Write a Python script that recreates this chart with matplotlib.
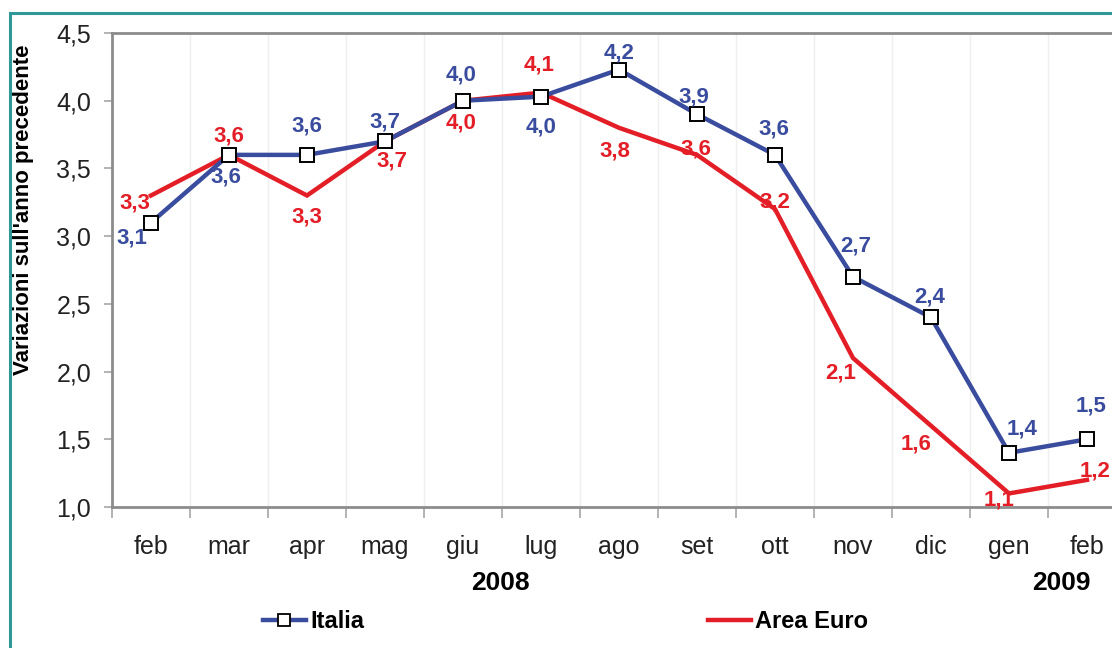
import matplotlib
matplotlib.use("Agg")
import matplotlib.pyplot as plt
from matplotlib.patches import Rectangle
from matplotlib.lines import Line2D
from matplotlib.ticker import FixedLocator, FuncFormatter

plt.rcParams['font.family'] = ['Liberation Sans', 'DejaVu Sans']

months = ["feb", "mar", "apr", "mag", "giu", "lug", "ago", "set", "ott", "nov", "dic", "gen", "feb"]
italia = [3.1, 3.6, 3.6, 3.7, 4.0, 4.03, 4.23, 3.9, 3.6, 2.7, 2.4, 1.4, 1.5]
euro = [3.3, 3.6, 3.3, 3.7, 4.0, 4.06, 3.8, 3.6, 3.2, 2.1, 1.6, 1.1, 1.2]
years = ["2008", "2009"]
series_names = ["Italia", "Area Euro"]
ylabel = "Variazioni sull'anno precedente"

BLUE = "#3a4c9e"
RED = "#e31e26"
TEAL = "#2f9898"

# label offsets in pixels (dx, dy up)
off_it = [(-19, -15), (-3, -22), (0, 29), (0, 19), (-2, 26), (0, -30), (0, 17),
          (-3, 17), (-1, 26), (3, 31), (-1, 20), (13, 24), (4, 33)]
off_eu = [(-16, -7), (0, 19), (0, -21), (7, -20), (-2, -22), (-2, 28), (-4, -23),
          (-1, 6), (0, 7), (-12, -15), (-15, -18), (-10, -7), (8, 9)]

W, H = 1112, 648
fig = plt.figure(figsize=(W / 100, H / 100), dpi=100)
fig.patch.set_facecolor("white")

# teal frame
fig.patches.append(Rectangle((10 / W, -0.1), 1.2, 1 - 13 / H + 0.1, transform=fig.transFigure,
                             fill=False, edgecolor=TEAL, linewidth=2.2))

ax = fig.add_axes([112 / W, (H - 507) / H, 1014 / W, 474 / H])
x = list(range(len(months)))
ax.plot(x, euro, color=RED, linewidth=3.2, solid_joinstyle='miter', zorder=3)
ax.plot(x, italia, color=BLUE, linewidth=3.2, marker='s', markersize=10,
        markerfacecolor='white', markeredgecolor='black', markeredgewidth=1.4, zorder=4)

for xi, v, (dx, dy) in zip(x, italia, off_it):
    ax.annotate(f"{v:.1f}".replace(".", ","), (xi, v), xytext=(dx, dy), textcoords='offset pixels',
                ha='center', va='center', color=BLUE, fontsize=16, fontweight='bold', zorder=5)
for xi, v, (dx, dy) in zip(x, euro, off_eu):
    ax.annotate(f"{v:.1f}".replace(".", ","), (xi, v), xytext=(dx, dy), textcoords='offset pixels',
                ha='center', va='center', color=RED, fontsize=16, fontweight='bold', zorder=5)

ax.set_xlim(-0.5, len(months) - 0.5)
ax.set_ylim(1.0, 4.5)
ax.yaxis.set_major_locator(FixedLocator([1.0, 1.5, 2.0, 2.5, 3.0, 3.5, 4.0, 4.5]))
ax.yaxis.set_major_formatter(FuncFormatter(lambda v, p: f"{v:.1f}".replace(".", ",")))
ax.set_xticks(x)
ax.set_xticklabels(months)
ax.set_xticks([i - 0.5 for i in range(len(months) + 1)], minor=True)
ax.tick_params(axis='x', which='major', length=0, pad=20, labelsize=18, colors='#222222')
ax.tick_params(axis='x', which='minor', length=8, width=1.2, color='#a5a5a5')
ax.tick_params(axis='y', length=6, width=1.2, color='#a5a5a5', labelsize=18, labelcolor='#222222', pad=9)
ax.grid(True, axis='x', which='minor', color='#efefef', linewidth=1.0)
for s in ['left', 'bottom', 'top']:
    ax.spines[s].set_color('#8c8c8c')
    ax.spines[s].set_linewidth(2.0)
ax.spines['right'].set_visible(False)

fig.text(24 / W, 1 - 210 / H, ylabel, rotation=90, ha='center', va='center',
         fontsize=16, fontweight='bold')
fig.text(500 / W, 1 - 583 / H, years[0], ha='center', va='center', fontsize=19, fontweight='bold')
fig.text(1061 / W, 1 - 583 / H, years[1], ha='center', va='center', fontsize=19, fontweight='bold')

# legend
h_it = Line2D([0], [0], color=BLUE, linewidth=3.2, marker='s', markersize=9,
              markerfacecolor='white', markeredgecolor='black', markeredgewidth=1.3)
h_eu = Line2D([0], [0], color=RED, linewidth=3.2)
leg1 = fig.legend([h_it], [series_names[0]], loc='center left', bbox_to_anchor=(263 / W, 1 - 622 / H),
                  frameon=False, prop={'size': 17, 'weight': 'bold'}, handlelength=1.8, handletextpad=0.2,
                  borderpad=0, borderaxespad=0)
leg2 = fig.legend([h_eu], [series_names[1]], loc='center left', bbox_to_anchor=(708 / W, 1 - 622 / H),
                  frameon=False, prop={'size': 17, 'weight': 'bold'}, handlelength=1.8, handletextpad=0.2,
                  borderpad=0, borderaxespad=0)

fig.savefig("out.png", dpi=100, facecolor='white')
